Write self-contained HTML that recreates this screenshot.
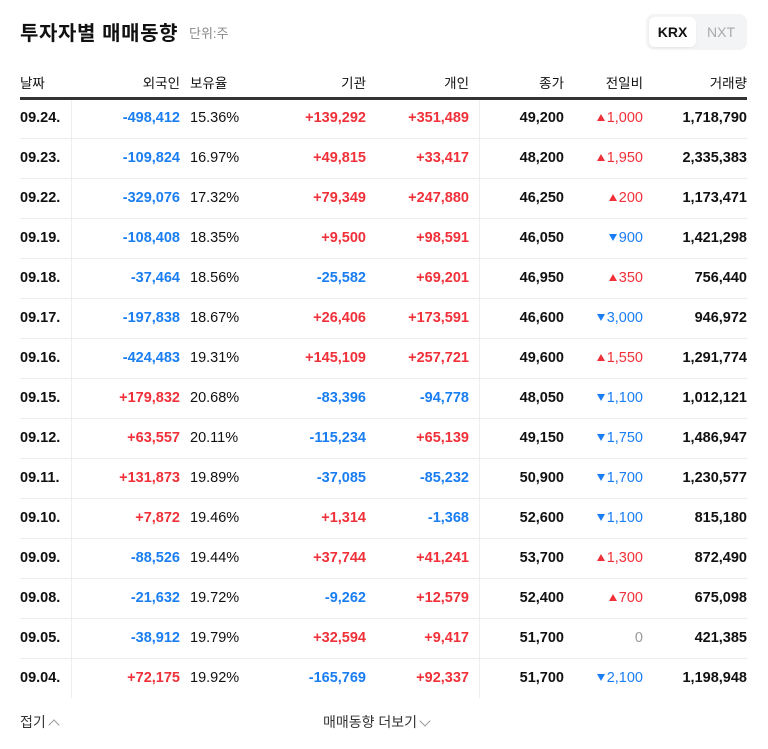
<!DOCTYPE html>
<html><head><meta charset="utf-8">
<style>
body{margin:0;background:#fff;width:768px;height:749px;overflow:hidden;font-family:"Liberation Sans","Noto Sans CJK KR",sans-serif;color:#111;}
.abs{position:absolute;white-space:nowrap;}
#title{left:20px;top:17px;font-size:20px;font-weight:bold;letter-spacing:0.6px;}
#unit{left:189px;top:23px;font-size:13px;color:#888;}
#toggle{left:646px;top:14px;width:101px;height:36px;background:#f3f4f6;border-radius:8px;}
#krx{left:3px;top:3px;width:47px;height:30px;background:#fff;border-radius:6px;font-size:14px;font-weight:bold;line-height:30px;text-align:center;box-shadow:0 1px 2px rgba(0,0,0,0.06);}
#nxt{left:56px;top:3px;width:38px;height:30px;font-size:14px;color:#aaa;line-height:30px;text-align:center;}
.hd{top:72px;font-size:13.5px;color:#111;}
.r{text-align:right;}
.cell{font-size:14.5px;line-height:40px;height:40px;}
.b{font-weight:bold;}
.red{color:#f0313a;} .blue{color:#1a7ef2;} .gray{color:#999;}
.tri{display:inline-block;width:0;height:0;border-left:4px solid transparent;border-right:4px solid transparent;margin-right:2px;vertical-align:middle;position:relative;top:-1px;}
.up{border-bottom:7px solid #f0313a;}
.dn{border-top:7px solid #1a7ef2;}
.chev{display:inline-block;width:7px;height:7px;border-left:1px solid #999;border-top:1px solid #999;margin-left:4px;}
</style></head><body>
<div class="abs" id="title">투자자별 매매동향</div>
<div class="abs" id="unit">단위:주</div>
<div class="abs" id="toggle">
  <div class="abs" id="krx">KRX</div>
  <div class="abs" id="nxt">NXT</div>
</div>
<div class="abs hd" style="left:20px">날짜</div>
<div class="abs hd r" style="right:588px">외국인</div>
<div class="abs hd" style="left:190px">보유율</div>
<div class="abs hd r" style="right:402px">기관</div>
<div class="abs hd r" style="right:299px">개인</div>
<div class="abs hd r" style="right:204px">종가</div>
<div class="abs hd r" style="right:125px">전일비</div>
<div class="abs hd r" style="right:21px">거래량</div>
<div class="abs" style="left:20px;top:97px;width:727px;height:3px;background:#333"></div>
<div class="abs" style="left:71px;top:100px;width:1px;height:598px;background:#eee"></div>
<div class="abs" style="left:479px;top:100px;width:1px;height:598px;background:#eee"></div>
<div id="rows"></div>
<div class="abs" style="left:20px;top:712px;font-size:14px;color:#333">접기<span class="chev" style="transform:rotate(45deg);position:relative;top:2px"></span></div>
<div class="abs" style="left:323px;top:712px;font-size:14px;color:#333">매매동향 더보기<span class="chev" style="transform:rotate(225deg);position:relative;top:-2px"></span></div>
<script>
const dates=["09.24.","09.23.","09.22.","09.19.","09.18.","09.17.","09.16.","09.15.","09.12.","09.11.","09.10.","09.09.","09.08.","09.05.","09.04."];
const foreign=[-498412,-109824,-329076,-108408,-37464,-197838,-424483,179832,63557,131873,7872,-88526,-21632,-38912,72175];
const holding=["15.36%","16.97%","17.32%","18.35%","18.56%","18.67%","19.31%","20.68%","20.11%","19.89%","19.46%","19.44%","19.72%","19.79%","19.92%"];
const inst=[139292,49815,79349,9500,-25582,26406,145109,-83396,-115234,-37085,1314,37744,-9262,32594,-165769];
const indiv=[351489,33417,247880,98591,69201,173591,257721,-94778,65139,-85232,-1368,41241,12579,9417,92337];
const closes=[49200,48200,46250,46050,46950,46600,49600,48050,49150,50900,52600,53700,52400,51700,51700];
const changes=[1000,1950,200,-900,350,-3000,1550,-1100,-1750,-1700,-1100,1300,700,0,-2100];
const volumes=[1718790,2335383,1173471,1421298,756440,946972,1291774,1012121,1486947,1230577,815180,872490,675098,421385,1198948];
const fmt=v=>Math.abs(v).toLocaleString('en-US');
const sgn=v=>(v>0?'+':v<0?'-':'')+fmt(v);
const cls=v=>v>0?'red':v<0?'blue':'gray';
const host=document.getElementById('rows');
function cell(row,html,style,c,name){
  const d=document.createElement('div');
  d.className='abs cell '+c;
  d.style.cssText=style+';top:'+(98+row*40)+'px';
  d.innerHTML=html;
  
  
  host.appendChild(d);
}
dates.forEach((dt,i)=>{
  cell(i,dt,'left:20px','b','row-date');
  cell(i,sgn(foreign[i]),'right:588px','b r '+cls(foreign[i]),'row-foreign');
  cell(i,holding[i],'left:190px','','row-holding');
  cell(i,sgn(inst[i]),'right:402px','b r '+cls(inst[i]),'row-institution');
  cell(i,sgn(indiv[i]),'right:299px','b r '+cls(indiv[i]),'row-individual');
  cell(i,fmt(closes[i]),'right:204px','b r','row-close');
  const c=changes[i];
  cell(i,(c>0?'<span class="tri up"></span>':c<0?'<span class="tri dn"></span>':'')+fmt(c),'right:125px','r '+cls(c),'row-change');
  cell(i,fmt(volumes[i]),'right:21px','b r','row-volume');
  if(i<dates.length-1){
    const l=document.createElement('div');
    l.className='abs';
    l.style.cssText='left:20px;width:727px;height:1px;background:#ececec;top:'+(138+i*40)+'px';
    
    
    host.appendChild(l);
  }
});
</script>
</body></html>
